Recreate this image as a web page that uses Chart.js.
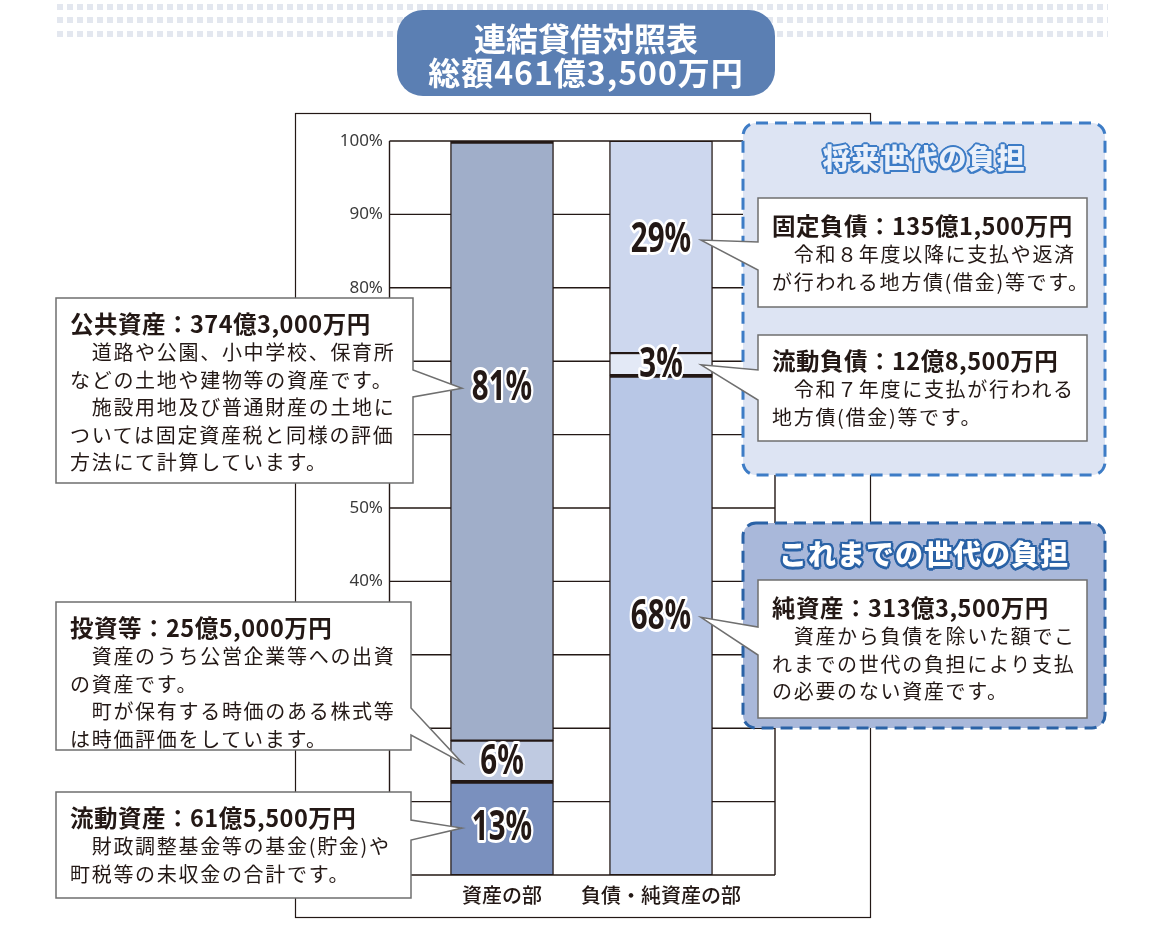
<!DOCTYPE html>
<html lang="ja">
<head>
<meta charset="utf-8">
<title>連結貸借対照表</title>
<script src="https://cdn.jsdelivr.net/npm/chart.js@4.4.1/dist/chart.umd.min.js"></script>
<style>
  body { margin:0; background:#fff; font-family:"Noto Sans CJK JP","Noto Sans",sans-serif; color:#231815; }
  #wrap { position:relative; width:1161px; height:928px; overflow:hidden; }
  #chart { position:absolute; left:0; top:0; }
  .dots { position:absolute; left:57px; width:1051px; height:6px;
    background:repeating-linear-gradient(90deg,#e3e7ef 0 6px,transparent 6px 10px); }
  .title { position:absolute; left:397px; top:10px; width:378px; height:86px; box-sizing:border-box;
    padding-top:10px; border-radius:26px; background:#5b7fb3; color:#fff; text-align:center;
    font-weight:700; font-size:32px; line-height:34px; }
  .title .t2 { letter-spacing:1px; }
  .box { position:absolute; box-sizing:border-box; padding:10px 0 0 14px; }
  .box .h { font-weight:700; font-size:23.5px; line-height:30px; letter-spacing:0.5px; white-space:nowrap; }
  .box .l { font-size:20px; line-height:27.5px; letter-spacing:1.7px; white-space:nowrap; }
  .ptitle { position:absolute; left:743px; width:362px; text-align:center; font-weight:900;
    font-size:28px; line-height:34px; letter-spacing:1px; }
  .p1 { top:140px; color:#eaf0fa;
    text-shadow:2px 0 #3d7cc6,-2px 0 #3d7cc6,0 2px #3d7cc6,0 -2px #3d7cc6,
      1.5px 1.5px #3d7cc6,-1.5px -1.5px #3d7cc6,1.5px -1.5px #3d7cc6,-1.5px 1.5px #3d7cc6; }
  .p2 { top:536px; color:#fff;
    text-shadow:2.5px 0 #2a62a6,-2.5px 0 #2a62a6,0 2.5px #2a62a6,0 -2.5px #2a62a6,
      1.8px 1.8px #2a62a6,-1.8px -1.8px #2a62a6,1.8px -1.8px #2a62a6,-1.8px 1.8px #2a62a6; }
</style>
</head>
<body>
<div id="wrap">
  <div class="dots" style="top:4px"></div>
  <div class="dots" style="top:17px"></div>
  <div class="dots" style="top:31px"></div>
  <canvas id="chart" width="1161" height="928"></canvas>
  <div class="title">連結貸借対照表<br><span class="t2">総額461億3,500万円</span></div>

  <div class="ptitle p1">将来世代の負担</div>
  <div class="ptitle p2">これまでの世代の負担</div>

  <div class="box" style="left:56px;top:298px">
    <div class="h">公共資産：374億3,000万円</div>
    <div class="l">　道路や公園、小中学校、保育所</div>
    <div class="l">などの土地や建物等の資産です。</div>
    <div class="l">　施設用地及び普通財産の土地に</div>
    <div class="l">ついては固定資産税と同様の評価</div>
    <div class="l">方法にて計算しています。</div>
  </div>
  <div class="box" style="left:56px;top:602px">
    <div class="h">投資等：25億5,000万円</div>
    <div class="l">　資産のうち公営企業等への出資</div>
    <div class="l">の資産です。</div>
    <div class="l">　町が保有する時価のある株式等</div>
    <div class="l">は時価評価をしています。</div>
  </div>
  <div class="box" style="left:56px;top:792px">
    <div class="h">流動資産：61億5,500万円</div>
    <div class="l">　財政調整基金等の基金(貯金)や</div>
    <div class="l">町税等の未収金の合計です。</div>
  </div>
  <div class="box" style="left:758px;top:200px">
    <div class="h">固定負債：135億1,500万円</div>
    <div class="l">　令和８年度以降に支払や返済</div>
    <div class="l">が行われる地方債(借金)等です。</div>
  </div>
  <div class="box" style="left:758px;top:335px">
    <div class="h">流動負債：12億8,500万円</div>
    <div class="l">　令和７年度に支払が行われる</div>
    <div class="l">地方債(借金)等です。</div>
  </div>
  <div class="box" style="left:758px;top:582px">
    <div class="h">純資産：313億3,500万円</div>
    <div class="l">　資産から負債を除いた額でこ</div>
    <div class="l">れまでの世代の負担により支払</div>
    <div class="l">の必要のない資産です。</div>
  </div>
</div>

<script>
// categories and stacked shares (percent of total), bottom -> top
const categories = ['資産の部', '負債・純資産の部'];
const assetShare = [12.8, 5.5, 81.7];   // 流動資産, 投資等, 公共資産
const liabShare = [68.1, 3.0, 28.9];    // 純資産, 流動負債, 固定負債
const assetLabels = ['13%', '6%', '81%'];
const liabLabels = ['68%', '3%', '29%'];
const yMax = 100;
const yStep = 10;

// where the % text sits on each segment (value units)
const assetLabelAt = [6.4, 15.3, 66.3];
const liabLabelAt = [35.1, 69.5, 86.5];

const assetColors = ['#7a90be', '#bfcae1', '#a0aec9'];
const liabColors = ['#b8c7e6', '#e3e9f6', '#cdd7ee'];
const INK = '#231815';

// callout boxes [x0, y0, x1, y1], wedge base on the edge facing the bar
const leftBoxes = [
  { r: [56, 792, 411, 898], base: [820, 840], bar: 0, seg: 0 },
  { r: [56, 602, 411, 750], base: [708, 735], bar: 0, seg: 1 },
  { r: [56, 298, 413, 483], base: [370, 397], bar: 0, seg: 2 }
];
const rightBoxes = [
  { r: [758, 580, 1087, 718], base: [627, 655], bar: 1, seg: 0 },
  { r: [758, 335, 1087, 441], base: [370, 400], bar: 1, seg: 1 },
  { r: [758, 198, 1087, 307], base: [242, 270], bar: 1, seg: 2 }
];

function labelPos(chart, bar, seg) {
  const meta = chart.getDatasetMeta(seg);
  const at = bar === 0 ? assetLabelAt[seg] : liabLabelAt[seg];
  return { x: meta.data[bar].x, y: chart.scales.y.getPixelForValue(at) };
}

function panel(ctx, x0, y0, x1, y1, fill, line) {
  ctx.beginPath();
  ctx.roundRect(x0, y0, x1 - x0, y1 - y0, 13);
  ctx.fillStyle = fill;
  ctx.fill();
  ctx.setLineDash([12, 7]);
  ctx.lineWidth = 3;
  ctx.strokeStyle = line;
  ctx.stroke();
  ctx.setLineDash([]);
}

function callout(ctx, b, tip, side) {
  const [x0, y0, x1, y1] = b.r;
  ctx.beginPath();
  ctx.moveTo(x0, y0);
  ctx.lineTo(x1, y0);
  if (side === 'right') {
    ctx.lineTo(x1, b.base[0]);
    ctx.lineTo(tip.x, tip.y);
    ctx.lineTo(x1, b.base[1]);
    ctx.lineTo(x1, y1);
    ctx.lineTo(x0, y1);
  } else {
    ctx.lineTo(x1, y1);
    ctx.lineTo(x0, y1);
    ctx.lineTo(x0, b.base[1]);
    ctx.lineTo(tip.x, tip.y);
    ctx.lineTo(x0, b.base[0]);
  }
  ctx.closePath();
  ctx.fillStyle = '#fff';
  ctx.fill();
  ctx.lineWidth = 1.5;
  ctx.strokeStyle = '#6f6f6f';
  ctx.stroke();
}

const annot = {
  id: 'annot',
  beforeDatasetsDraw(chart) {
    const { ctx, chartArea: a, scales: { y } } = chart;
    ctx.save();
    ctx.strokeStyle = INK;
    ctx.lineWidth = 1.2;
    ctx.strokeRect(295.5, 113.5, 575, 804);
    const gl = a.left - 33, gr = a.right + 34.5;
    ctx.lineWidth = 1.4;
    ctx.beginPath();
    y.ticks.forEach(t => {
      const py = y.getPixelForValue(t.value);
      ctx.moveTo(gl, py);
      ctx.lineTo(gr, py);
    });
    ctx.moveTo(gl, y.top);
    ctx.lineTo(gl, y.bottom);
    ctx.moveTo(gr, y.top);
    ctx.lineTo(gr, y.bottom);
    ctx.stroke();
    ctx.restore();
  },
  afterDatasetsDraw(chart) {
    const ctx = chart.ctx;
    ctx.save();
    ctx.font = 'bold 41px "Noto Sans", sans-serif';
    ctx.textAlign = 'center';
    ctx.textBaseline = 'middle';
    ctx.lineJoin = 'round';
    [assetLabels, liabLabels].forEach((labels, bar) => {
      labels.forEach((txt, seg) => {
        const p = labelPos(chart, bar, seg);
        ctx.save();
        ctx.translate(p.x, p.y);
        ctx.scale(0.72, 1);
        ctx.lineWidth = 6;
        ctx.strokeStyle = '#fff';
        ctx.strokeText(txt, 0, 0);
        ctx.fillStyle = INK;
        ctx.fillText(txt, 0, 0);
        ctx.restore();
      });
    });
    ctx.restore();
  },
  afterDraw(chart) {
    const ctx = chart.ctx;
    ctx.save();
    panel(ctx, 743, 123, 1105, 475, '#dde4f3', '#3d7cc6');
    panel(ctx, 743, 523, 1105, 728, '#a9b8da', '#2a62a6');
    leftBoxes.forEach(b => {
      const p = labelPos(chart, b.bar, b.seg);
      callout(ctx, b, { x: p.x - 40, y: p.y }, 'right');
    });
    rightBoxes.forEach(b => {
      const p = labelPos(chart, b.bar, b.seg);
      callout(ctx, b, { x: p.x + 40, y: p.y }, 'left');
    });
    ctx.restore();
  }
};

const thick = (bar, seg) => {
  const top = (bar === 0 && seg !== 1) || (bar === 1 && seg === 0) ? 3 : 1.4;
  return { top: top, right: 1.4, bottom: 1.4, left: 1.4 };
};

const datasets = [0, 1, 2].map(seg => ({
  label: 'seg' + seg,
  data: [assetShare[seg], liabShare[seg]],
  backgroundColor: [assetColors[seg], liabColors[seg]],
  borderColor: INK,
  borderWidth: c => thick(c.dataIndex, seg),
  borderSkipped: false,
  barThickness: 103
}));

new Chart(document.getElementById('chart').getContext('2d'), {
  type: 'bar',
  data: { labels: categories, datasets: datasets },
  options: {
    responsive: false,
    animation: false,
    events: [],
    layout: { padding: { left: 330, right: 420.5, top: 141, bottom: 13 } },
    plugins: { legend: { display: false }, tooltip: { enabled: false } },
    scales: {
      x: {
        stacked: true,
        grid: { display: false, drawTicks: false },
        border: { display: false },
        ticks: {
          color: INK,
          padding: 8,
          maxRotation: 0,
          minRotation: 0,
          autoSkip: false,
          font: { family: '"Noto Sans CJK JP", sans-serif', size: 20, weight: '500' }
        },
        afterFit: s => { s.height = 40; }
      },
      y: {
        stacked: true,
        min: 0,
        max: yMax,
        grid: { display: false, drawTicks: false },
        border: { display: false },
        ticks: {
          stepSize: yStep,
          padding: 39.5,
          color: '#3a3a3a',
          font: { family: '"Noto Sans", sans-serif', size: 17 },
          callback: v => v + '%'
        },
        afterFit: s => { s.width = 92.5; }
      }
    }
  },
  plugins: [annot]
});
</script>
</body>
</html>
